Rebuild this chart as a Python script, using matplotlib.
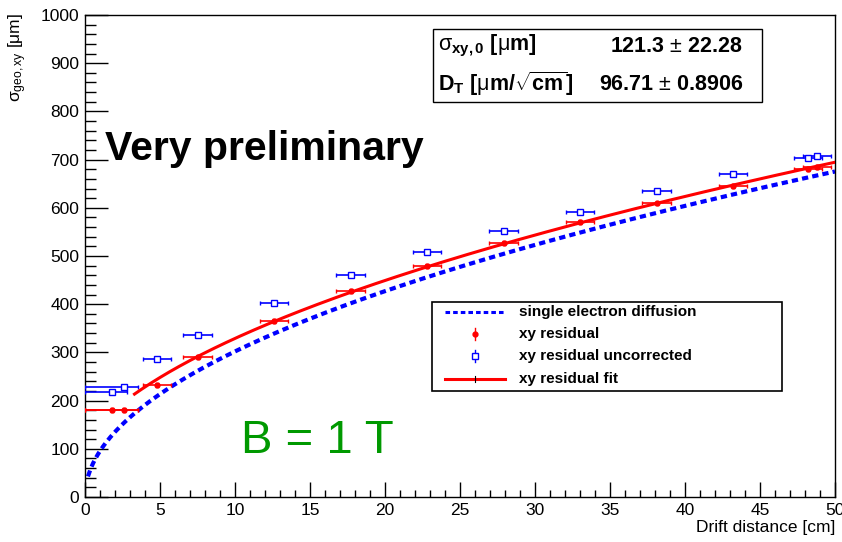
import matplotlib
matplotlib.use('Agg')
import matplotlib.pyplot as plt
import numpy as np
from matplotlib.patches import Rectangle
from matplotlib.lines import Line2D
from matplotlib.ticker import MultipleLocator

plt.rcParams['font.family'] = ['Liberation Sans', 'DejaVu Sans']
plt.rcParams['mathtext.fontset'] = 'custom'
plt.rcParams['mathtext.rm'] = 'Liberation Sans'
plt.rcParams['mathtext.it'] = 'Liberation Sans:italic'
plt.rcParams['mathtext.bf'] = 'Liberation Sans:bold'

# xy residual (corrected)
res_x = [1.8, 2.6, 4.8, 7.5, 12.6, 17.7, 22.8, 27.9, 33.0, 38.1, 43.2, 48.2, 48.8]
res_y = [181, 181, 232, 291, 365, 428, 480, 527, 571, 609, 645, 680, 684]
res_xlo = [1.8, 2.6, 0.95, 0.95, 0.95, 0.95, 0.95, 0.95, 0.95, 0.95, 0.95, 0.95, 0.95]
res_xhi = [1.7, 0.9, 0.95, 0.95, 0.95, 0.95, 0.95, 0.95, 0.95, 0.95, 0.95, 0.95, 0.95]
res_yerr = [4, 4, 4, 4, 4, 4, 4, 4, 4, 4, 4, 4, 4]

# xy residual uncorrected
unc_x = [1.8, 2.6, 4.8, 7.5, 12.6, 17.7, 22.8, 27.9, 33.0, 38.1, 43.2, 48.2, 48.8]
unc_y = [218, 229, 286, 337, 403, 460, 508, 552, 592, 634, 671, 703, 708]
unc_xlo = [1.8, 2.6, 0.95, 0.95, 0.95, 0.95, 0.95, 0.95, 0.95, 0.95, 0.95, 0.95, 0.95]
unc_xhi = [1.0, 0.9, 0.95, 0.95, 0.95, 0.95, 0.95, 0.95, 0.95, 0.95, 0.95, 0.95, 0.95]
unc_yerr = [4, 4, 4, 4, 4, 4, 4, 4, 4, 4, 4, 4, 4]

# fit results
sigma0, sigma0_err = 121.3, 22.28
dt, dt_err = 96.71, 0.8906
fit_range = (3.3, 50)
# single electron diffusion coefficient
dt_single = 95.5

W, H = 842, 542
fig = plt.figure(figsize=(W / 100, H / 100), dpi=100)
ax = fig.add_axes([85 / W, 45 / H, 750 / W, 482 / H])


def fx(px):
    return px / W


def fy(py):
    return 1 - py / H


dash = (0, (1.5, 1.0))

xd = np.linspace(0.2, 50, 300)
ax.plot(xd, dt_single * np.sqrt(xd), color='blue', lw=3, ls=dash, zorder=2)

ax.errorbar(unc_x, unc_y, xerr=[unc_xlo, unc_xhi], yerr=unc_yerr, fmt='s',
            color='blue', mfc='white', mec='blue', ms=4.5, mew=1,
            elinewidth=1.2, capsize=1.5, capthick=1, zorder=3)
ax.errorbar(res_x, res_y, xerr=[res_xlo, res_xhi], yerr=res_yerr, fmt='o',
            color='red', ms=3.5, elinewidth=1.2, capsize=1.5, capthick=1, zorder=3)

xf = np.linspace(fit_range[0], fit_range[1], 300)
ax.plot(xf, np.sqrt(sigma0 ** 2 + dt ** 2 * xf), color='red', lw=2.2, zorder=4)

ax.set_xlim(0, 50)
ax.set_ylim(0, 1000)
ax.xaxis.set_major_locator(MultipleLocator(5))
ax.xaxis.set_minor_locator(MultipleLocator(1))
ax.yaxis.set_major_locator(MultipleLocator(100))
ax.yaxis.set_minor_locator(MultipleLocator(20))
ax.tick_params(axis='both', which='both', direction='in', labelsize=12.5, width=1, pad=4)
ax.tick_params(axis='x', which='major', length=10.5)
ax.tick_params(axis='x', which='minor', length=5.2)
ax.tick_params(axis='y', which='major', length=16.5)
ax.tick_params(axis='y', which='minor', length=8.2)
for s in ax.spines.values():
    s.set_linewidth(1)

ax.set_xlabel('Drift distance [cm]', fontsize=12.5, loc='right')
ax.xaxis.set_label_coords(1.0, -0.048)
ax.set_ylabel(r'$\mathrm{\sigma_{geo,xy}}$ [$\mathrm{\mu}$m]', fontsize=12.5, loc='top')
ax.yaxis.set_label_coords(-0.074, 1.004)

ax.text(0.027, 0.699, 'Very preliminary', transform=ax.transAxes, fontsize=29.5,
        fontweight='bold', ha='left', va='baseline')
ax.text(0.208, 0.091, 'B = 1 T', transform=ax.transAxes, fontsize=34,
        color='#009900', ha='left', va='baseline')

# stats box
fig.add_artist(Rectangle((fx(433), fy(102)), (762 - 433) / W, 73 / H,
                         transform=fig.transFigure, fc='white', ec='black', lw=1, zorder=5))
fig.text(fx(438), fy(46), r'$\mathrm{\sigma}_{\mathbf{xy,0}}$ [$\mathrm{\mu}$m]',
         fontsize=15.5, fontweight='bold', ha='left', va='center', zorder=6)
fig.text(fx(743), fy(46), '%.1f $\\pm$ %.2f' % (sigma0, sigma0_err),
         fontsize=15.5, fontweight='bold', ha='right', va='center', zorder=6)
fig.text(fx(438), fy(84), r'$\mathbf{D_T}$ [$\mathrm{\mu}$m/$\sqrt{\mathbf{cm}}$]',
         fontsize=15.5, fontweight='bold', ha='left', va='center', zorder=6)
fig.text(fx(743), fy(84), '%.2f $\\pm$ %.4f' % (dt, dt_err),
         fontsize=15.5, fontweight='bold', ha='right', va='center', zorder=6)

# legend box
fig.add_artist(Rectangle((fx(432), fy(391)), 350 / W, 89 / H,
                         transform=fig.transFigure, fc='white', ec='black', lw=1.2, zorder=5))
rows = [312, 334, 356, 379]
labels = ['single electron diffusion', 'xy residual', 'xy residual uncorrected', 'xy residual fit']
for r, lab in zip(rows, labels):
    fig.text(fx(519), fy(r), lab, fontsize=11, fontweight='bold', ha='left', va='center', zorder=6)
fig.add_artist(Line2D([fx(445), fx(505)], [fy(rows[0])] * 2, transform=fig.transFigure,
                      color='blue', lw=2.2, ls=dash, zorder=6))
fig.add_artist(Line2D([fx(475)] * 2, [fy(rows[1] - 6), fy(rows[1] + 6)], transform=fig.transFigure,
                      color='red', lw=1, zorder=6))
fig.add_artist(Line2D([fx(475)], [fy(rows[1])], transform=fig.transFigure,
                      color='red', marker='o', ms=3.5, zorder=6))
fig.add_artist(Line2D([fx(475)] * 2, [fy(rows[2] - 6), fy(rows[2] + 6)], transform=fig.transFigure,
                      color='blue', lw=1, zorder=6))
fig.add_artist(Line2D([fx(475)], [fy(rows[2])], transform=fig.transFigure,
                      color='blue', marker='s', ms=4, mfc='white', zorder=6))
fig.add_artist(Line2D([fx(445), fx(505)], [fy(rows[3])] * 2, transform=fig.transFigure,
                      color='red', lw=2.2, zorder=6))
fig.add_artist(Line2D([fx(475)] * 2, [fy(rows[3] - 3), fy(rows[3] + 3)], transform=fig.transFigure,
                      color='black', lw=0.8, zorder=7))

fig.savefig('out.png', dpi=100)
